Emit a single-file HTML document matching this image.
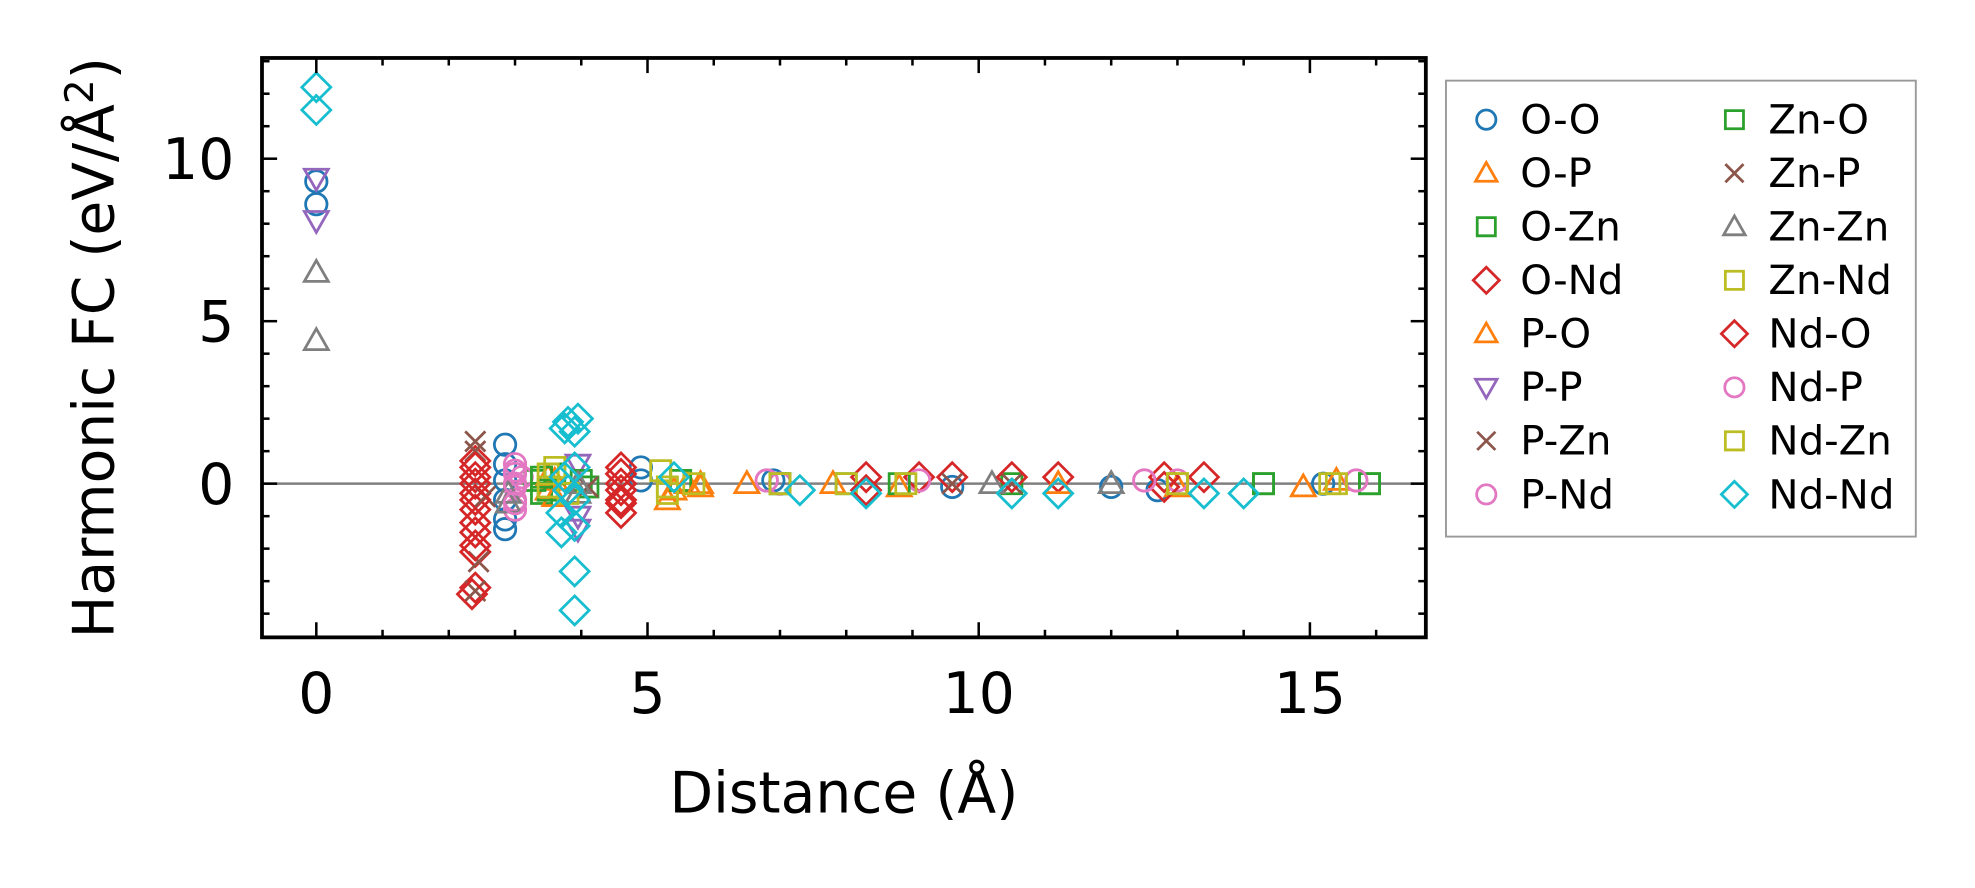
<!DOCTYPE html>
<html><head><meta charset="utf-8"><style>
body{margin:0;background:#fff;width:1975px;height:883px;overflow:hidden}
svg text{font-family:"DejaVu Sans","Liberation Sans",sans-serif}
</style></head><body>
<svg id="chart" width="1975" height="883" viewBox="0 0 1568 701" xmlns="http://www.w3.org/2000/svg">
<g id="marks"></g>
<rect x="208" y="46" width="924" height="460" fill="none" stroke="#000" stroke-width="3"/>
<g id="axes"></g>
<text x="670" y="645" font-size="45" text-anchor="middle">Distance (Å)</text>
<text transform="translate(90,276) rotate(-90)" font-size="45" text-anchor="middle">Harmonic FC (eV/Å<tspan font-size="31" dy="-16">2</tspan><tspan dy="16">)</tspan></text>
<g id="legend"><rect x="1148" y="64" width="373" height="362" fill="#fff" stroke="#999" stroke-width="1.5"/></g>
</svg>
<script>
const seriesNames=["O-O","O-P","O-Zn","O-Nd","P-O","P-P","P-Zn","P-Nd","Zn-O","Zn-P","Zn-Zn","Zn-Nd","Nd-O","Nd-P","Nd-Zn","Nd-Nd"];
const seriesColors=["#1f77b4","#ff7f0e","#2ca02c","#d62728","#ff7f0e","#9467bd","#8c564b","#e377c2","#2ca02c","#8c564b","#7f7f7f","#bcbd22","#d62728","#e377c2","#bcbd22","#17becf"];
const seriesMarkers=["o","^","s","D","^","v","x","o","s","x","^","s","D","o","s","D"];
const xTicks=[0,5,10,15];
const yTicks=[0,5,10];
// x,y pairs per series
const dOO=[[0,9.3],[0,8.6],[2.85,1.2],[2.85,0.6],[2.85,0.1],[2.85,-0.5],[2.85,-1.1],[2.85,-1.4],[4.9,0.5],[4.9,0.1],[6.9,0.1],[9.6,-0.1],[12.0,-0.1],[12.7,-0.2],[15.2,0]];
const dOP=[[3.5,-0.2],[3.6,0.1],[5.3,-0.5],[5.6,0],[5.8,-0.1],[6.5,0],[8.8,-0.1],[13.0,-0.1],[14.9,-0.1]];
const dOZn=[[3.3,0.1],[3.4,-0.3],[3.6,0.3],[4.1,-0.1],[5.5,0.1],[7.0,0],[8.0,0],[10.5,0],[14.3,0],[15.9,0]];
const dONd=[[2.4,0.7],[2.4,0.2],[2.4,-0.3],[2.4,-0.8],[2.4,-1.5],[2.4,-2.1],[2.4,-3.2],[4.6,0.5],[4.6,0],[4.6,-0.5],[4.6,-0.9],[8.3,0.2],[9.1,0.2],[9.6,0.2],[11.2,0.2],[12.8,0.2],[13.4,0.2]];
const dPO=[[3.5,0.2],[3.6,-0.4],[5.4,-0.2],[5.8,0],[7.8,0],[11.2,0],[15.4,0.1]];
const dPP=[[0,9.4],[0,8.1],[3.95,0.6],[3.95,-1.0],[3.95,-1.4]];
const dPZn=[[2.4,1.3],[2.4,1.0],[2.45,-2.4],[2.4,-3.3],[2.55,-0.4]];
const dPNd=[[3.0,0.6],[3.0,0.3],[3.0,-0.1],[3.0,-0.5],[3.0,-0.8],[3.1,0.2],[6.8,0.1],[7.0,0],[9.1,0.1],[12.5,0.1],[13.0,0.1],[15.7,0.1]];
const dZnO=[[3.4,0.2],[3.5,-0.2],[4.0,0.1],[7.0,0],[8.8,0],[14.3,0],[15.9,0]];
const dZnP=[[4.1,-0.1],[9.6,0],[10.5,0]];
const dZnZn=[[0,6.5],[0,4.4],[2.9,-0.3],[2.9,-0.6],[3.95,0],[3.95,-0.3],[10.2,0],[12.0,0]];
const dZnNd=[[3.6,0.5],[3.5,-0.1],[5.2,0.4],[5.3,-0.3],[5.7,0],[8.0,0],[13.0,0],[15.3,0]];
const dNdO=[[2.4,0.5],[2.4,0],[2.4,-0.5],[2.4,-1.2],[2.4,-1.9],[2.35,-3.4],[4.6,0.3],[4.6,-0.2],[4.6,-0.6],[8.3,-0.2],[10.5,0.2],[12.8,-0.1]];
const dNdP=[[3.0,0.4],[3.0,0],[3.0,-0.6],[6.8,0.1],[12.5,0.1],[15.7,0.1]];
const dNdZn=[[3.5,0.3],[3.8,-0.3],[5.3,-0.1],[7.0,0],[8.9,0],[13.0,0],[15.4,0]];
const dNdNd=[[0,12.2],[0,11.5],[3.75,1.7],[3.8,1.9],[3.95,2.0],[3.9,1.6],[3.75,0.2],[3.8,-0.2],[3.9,0.5],[3.9,-0.5],[3.7,-0.9],[3.7,-1.5],[3.9,-1.3],[3.9,-2.7],[3.9,-3.9],[5.4,0.2],[7.3,-0.2],[8.3,-0.3],[10.5,-0.3],[11.2,-0.3],[13.4,-0.3],[14.0,-0.3]];
const seriesData=[dOO,dOP,dOZn,dONd,dPO,dPP,dPZn,dPNd,dZnO,dZnP,dZnZn,dZnNd,dNdO,dNdP,dNdZn,dNdNd];

const NS="http://www.w3.org/2000/svg";
const X0=208,X1=1132,Y0=46,Y1=506,xmin=-0.82,xmax=16.75,ymin=-4.73,ymax=13.1;
const sx=v=>X0+(v-xmin)/(xmax-xmin)*(X1-X0);
const sy=v=>Y1-(v-ymin)/(ymax-ymin)*(Y1-Y0);
function marker(m,x,y,c,s){
  let e;
  if(m==="o"){e=document.createElementNS(NS,"circle");e.setAttribute("cx",x);e.setAttribute("cy",y);e.setAttribute("r",8.5*s);}
  else{e=document.createElementNS(NS,"path");let d;const r=9.5*s;
    if(m==="^")d=`M${x},${y-r}L${x+r},${y+r*0.75}L${x-r},${y+r*0.75}Z`;
    else if(m==="v")d=`M${x},${y+r}L${x+r},${y-r*0.75}L${x-r},${y-r*0.75}Z`;
    else if(m==="s"){const h=8*s;d=`M${x-h},${y-h}h${2*h}v${2*h}h${-2*h}Z`;}
    else if(m==="D"){const h=11.5*s;d=`M${x},${y-h}L${x+h},${y}L${x},${y+h}L${x-h},${y}Z`;}
    else {const h=8*s;d=`M${x-h},${y-h}L${x+h},${y+h}M${x-h},${y+h}L${x+h},${y-h}`;}
    e.setAttribute("d",d);}
  e.setAttribute("fill","none");e.setAttribute("stroke",c);e.setAttribute("stroke-width",2.2);
  return e;
}
const marks=document.getElementById("marks");
const zl=document.createElementNS(NS,"line");


zl.setAttribute("x1",X0);zl.setAttribute("x2",X1);zl.setAttribute("y1",sy(0));zl.setAttribute("y2",sy(0));zl.setAttribute("stroke","#808080");zl.setAttribute("stroke-width",2);
marks.appendChild(zl);
seriesData.forEach((pts,i)=>{
  const g=document.createElementNS(NS,"g");
  
  
  pts.forEach(p=>{const el=marker(seriesMarkers[i],sx(p[0]),sy(p[1]),seriesColors[i],1);
    
    
    g.appendChild(el);});
  marks.appendChild(g);
});
const axes=document.getElementById("axes");
function tick(x1,y1,x2,y2,w){const l=document.createElementNS(NS,"line");
  
  
  l.setAttribute("x1",x1);l.setAttribute("y1",y1);l.setAttribute("x2",x2);l.setAttribute("y2",y2);l.setAttribute("stroke","#000");l.setAttribute("stroke-width",w);axes.appendChild(l);}
for(let v=0;v<=16;v++){const x=sx(v),L=v%5===0?12:6;tick(x,Y1,x,Y1-L,2);tick(x,Y0,x,Y0+L,2);}
for(let v=-4;v<=13;v++){const y=sy(v),L=v%5===0?12:6;tick(X0,y,X0+L,y,2);tick(X1,y,X1-L,y,2);}
xTicks.forEach(v=>{const t=document.createElementNS(NS,"text");
  
  
  t.setAttribute("x",sx(v));t.setAttribute("y",566);t.setAttribute("font-size",45);t.setAttribute("text-anchor","middle");t.textContent=v;axes.appendChild(t);});
yTicks.forEach(v=>{const t=document.createElementNS(NS,"text");
  
  
  t.setAttribute("x",186);t.setAttribute("y",sy(v)+16);t.setAttribute("font-size",45);t.setAttribute("text-anchor","end");t.textContent=v;axes.appendChild(t);});
const leg=document.getElementById("legend");
seriesNames.forEach((n,i)=>{const col=Math.floor(i/8),row=i%8;
  const mx=1180+col*197,my=95+row*42.5;
  const g=document.createElementNS(NS,"g");
  
  
  g.appendChild(marker(seriesMarkers[i],mx,my,seriesColors[i],0.9));
  const t=document.createElementNS(NS,"text");t.setAttribute("x",mx+27);t.setAttribute("y",my+11);t.setAttribute("font-size",32);t.textContent=n;g.appendChild(t);
  leg.appendChild(g);});
</script>
</body></html>
